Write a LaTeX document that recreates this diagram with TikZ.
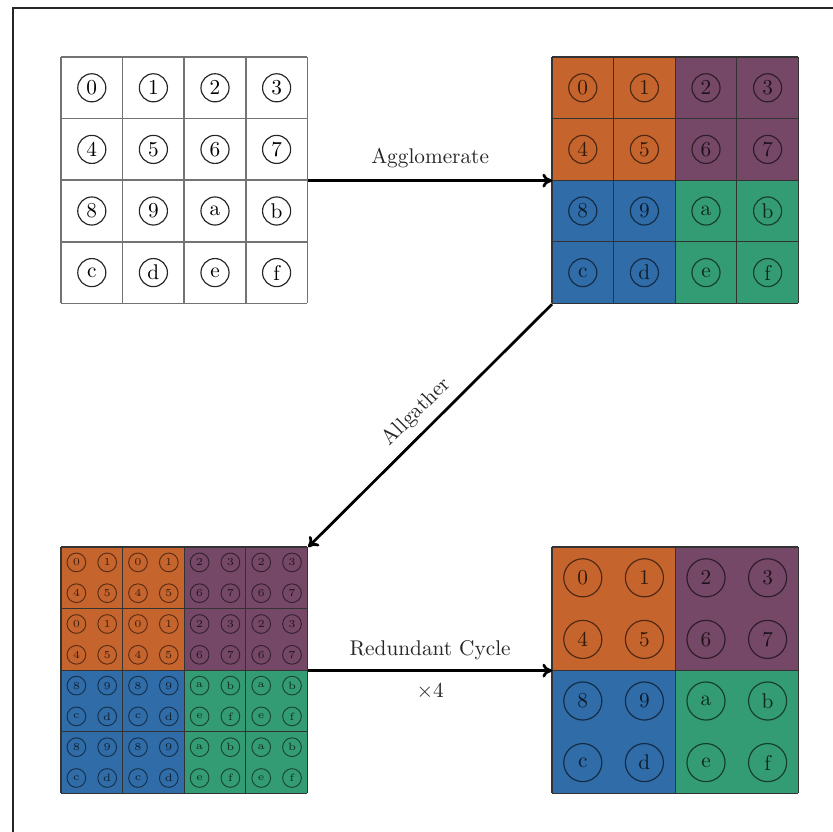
\documentclass[tikz,border=0pt]{standalone}
\usetikzlibrary{arrows.meta}

% quadrant colours
\definecolor{qorange}{RGB}{198,100,46}
\definecolor{qpurple}{RGB}{118,72,104}
\definecolor{qblue}{RGB}{48,108,168}
\definecolor{qgreen}{RGB}{52,156,116}

% hexadecimal rank label from an index 0..15
\newcommand\rklab[1]{\ifcase#1 0\or 1\or 2\or 3\or 4\or 5\or 6\or 7\or 8\or 9\or a\or b\or c\or d\or e\or f\fi}

\tikzset{
  frameline/.style={draw=black!85,line width=0.95pt},
  gridbox/.style={inner sep=0pt,minimum width=115.8pt,minimum height=115.8pt,anchor=north west},
  plaingrid/.style={draw=black!55,line width=0.7pt},
  darkgrid/.style={draw=black!80,line width=0.6pt},
  rankA/.style={circle,draw=black!85,line width=0.55pt,inner sep=0pt,minimum size=13.2pt,font=\normalsize},
  rankB/.style={circle,draw=black,draw opacity=0.6,text opacity=0.75,line width=0.55pt,inner sep=0pt,minimum size=13.2pt,font=\normalsize},
  rankC/.style={circle,draw=black,draw opacity=0.6,text opacity=0.75,line width=0.55pt,inner sep=0pt,minimum size=17.9pt,font=\normalsize},
  rankD/.style={circle,draw=black,draw opacity=0.55,text opacity=0.7,line width=0.45pt,inner sep=0pt,minimum size=8.8pt,font=\tiny},
  conn/.style={-{To[length=4.5pt,width=6.5pt]},line width=1.3pt,black},
  lbl/.style={font=\normalsize,text=black!85}
}

\begin{document}
\begin{tikzpicture}[x=0.47pt,y=0.47pt]
\useasboundingbox (0,0) rectangle (833,-832);

% page frame (top and left edges)
\draw[frameline] (13,-832) -- (13,-8) -- (833,-8);

% the four 4x4 blocks
\node[gridbox] (tl) at (61,-57) {};
\node[gridbox] (tr) at (552,-57) {};
\node[gridbox] (bl) at (61,-547) {};
\node[gridbox] (br) at (552,-547) {};

% ---- initial layout: 16 ranks, white ----
\begin{scope}[shift={(tl.north west)}]
  \foreach \i in {0,...,4} {
    \draw[plaingrid] (61.6*\i,0) -- (61.6*\i,-246.4);
    \draw[plaingrid] (0,-61.6*\i) -- (246.4,-61.6*\i);
  }
  \foreach \lab [count=\k from 0] in {0,1,2,3,4,5,6,7,8,9,a,b,c,d,e,f} {
    \pgfmathtruncatemacro\r{\k/4}
    \pgfmathtruncatemacro\c{mod(\k,4)}
    \node[rankA] (tl-\lab) at ({30.8+61.6*\c},{-30.8-61.6*\r}) {\lab};
  }
\end{scope}

% ---- agglomerated: ranks grouped in coloured quadrants ----
\begin{scope}[shift={(tr.north west)}]
  \foreach \qc/\qr/\col in {0/0/qorange,1/0/qpurple,0/1/qblue,1/1/qgreen}
    \fill[\col] (123.2*\qc,-123.2*\qr) rectangle ++(123.2,-123.2);
  \foreach \i in {0,...,4} {
    \draw[darkgrid] (61.6*\i,0) -- (61.6*\i,-246.4);
    \draw[darkgrid] (0,-61.6*\i) -- (246.4,-61.6*\i);
  }
  \foreach \lab [count=\k from 0] in {0,1,2,3,4,5,6,7,8,9,a,b,c,d,e,f} {
    \pgfmathtruncatemacro\r{\k/4}
    \pgfmathtruncatemacro\c{mod(\k,4)}
    \node[rankB] (tr-\lab) at ({30.8+61.6*\c},{-30.8-61.6*\r}) {\lab};
  }
\end{scope}

% ---- after allgather: every cell holds its group's four ranks ----
\begin{scope}[shift={(bl.north west)}]
  \foreach \qc/\qr/\col in {0/0/qorange,1/0/qpurple,0/1/qblue,1/1/qgreen}
    \fill[\col] (123.2*\qc,-123.2*\qr) rectangle ++(123.2,-123.2);
  \foreach \i in {0,...,4} {
    \draw[darkgrid] (61.6*\i,0) -- (61.6*\i,-246.4);
    \draw[darkgrid] (0,-61.6*\i) -- (246.4,-61.6*\i);
  }
  \foreach \R in {0,...,3} {
    \foreach \C in {0,...,3} {
      \foreach \i in {0,1} {
        \foreach \j in {0,1} {
          \pgfmathtruncatemacro\idx{(2*int(\R/2)+\i)*4+2*int(\C/2)+\j}
          \node[rankD] (bl-\R-\C-\i-\j) at ({61.6*\C+15.4+30.8*\j},{-61.6*\R-15.4-30.8*\i}) {\rklab{\idx}};
        }
      }
    }
  }
\end{scope}

% ---- after redundant cycles: one group per quadrant ----
\begin{scope}[shift={(br.north west)}]
  \foreach \qc/\qr/\col in {0/0/qorange,1/0/qpurple,0/1/qblue,1/1/qgreen}
    \fill[\col] (123.2*\qc,-123.2*\qr) rectangle ++(123.2,-123.2);
  \foreach \i in {0,2,4} {
    \draw[darkgrid] (61.6*\i,0) -- (61.6*\i,-246.4);
    \draw[darkgrid] (0,-61.6*\i) -- (246.4,-61.6*\i);
  }
  \foreach \lab [count=\k from 0] in {0,1,2,3,4,5,6,7,8,9,a,b,c,d,e,f} {
    \pgfmathtruncatemacro\r{\k/4}
    \pgfmathtruncatemacro\c{mod(\k,4)}
    \node[rankC] (br-\lab) at ({30.8+61.6*\c},{-30.8-61.6*\r}) {\lab};
  }
\end{scope}

% ---- connectors ----
\draw[conn] (tl.east) -- (tr.west)
  node[lbl,midway,above=2pt] (aggl) {Agglomerate};
\draw[conn] (tr.south west) -- (bl.north east)
  coordinate[midway] (agmid);
\node[lbl,rotate=45,anchor=south,inner sep=4.2pt] (allg) at (agmid) {Allgather};
\draw[conn] (bl.east) -- (br.west)
  node[lbl,midway,above=1pt] (redc) {Redundant Cycle}
  node[lbl,midway,below=2pt] (times) {$\times$4};
\end{tikzpicture}
\end{document}
